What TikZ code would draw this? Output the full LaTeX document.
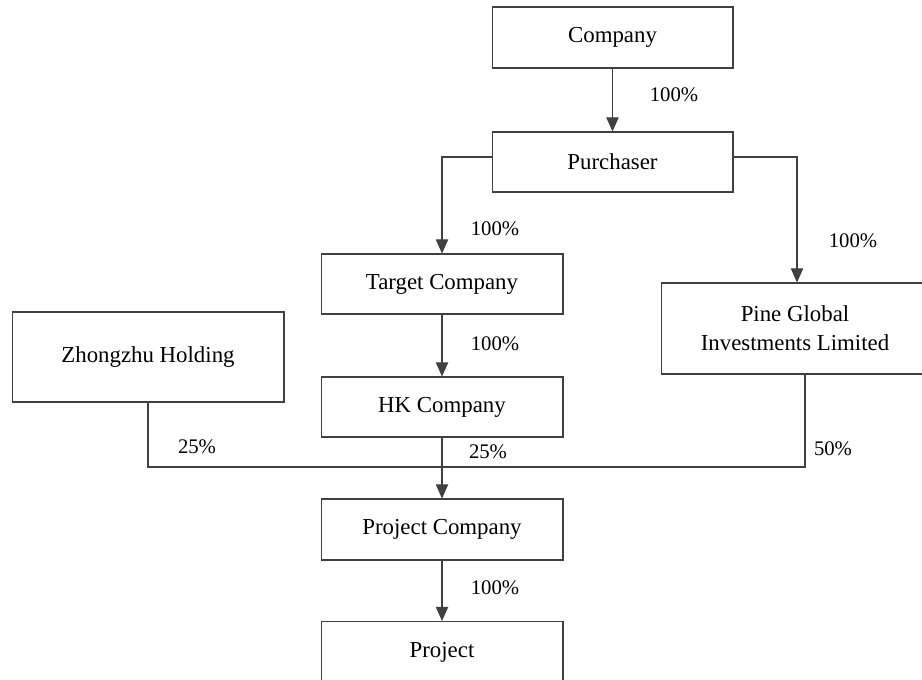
\documentclass[tikz,border=0pt]{standalone}
\usepackage{fontspec}
\setmainfont{Liberation Serif}
\usetikzlibrary{arrows.meta}
\tikzstyle{entity} = [rectangle, minimum width=4.84cm, minimum height=1.2cm, text centered, draw=black!75, line width=0.6pt, inner sep=0pt, font=\fontsize{13}{16.4}\selectfont]
\tikzstyle{share} = [inner sep=0pt, font=\fontsize{11.8}{14}\selectfont]
\tikzstyle{line} = [draw=black!75, line width=0.6pt]
\tikzstyle{arrow} = [line, -{Triangle[width=7pt,length=8pt]}]

\begin{document}
\begin{tikzpicture}[x=0.02cm, y=-0.02cm]
        \clip (0,0) rectangle (922,679);
        \node (company) [entity, minimum width=4.82cm, minimum height=1.22cm] at (612.5,37.5) {Company};
        \node (purchaser) [entity, minimum width=4.82cm] at (612.5,162) {Purchaser};
        \node (target) [entity] at (442,284) {Target Company};
        \node (pine) [entity, minimum width=5.36cm, minimum height=1.82cm, align=center] at (795,328.5)
        {Pine Global\\Investments Limited};
        \node (zhongzhu) [entity, minimum width=5.44cm, minimum height=1.8cm] at (148,357) {Zhongzhu Holding};
        \node (hk) [entity] at (442,407) {HK Company};
        \node (projco) [entity, minimum height=1.22cm] at (442,529.5) {Project Company};
        \node (project) [entity, minimum height=1.22cm] at (442,652) {Project};
        \coordinate (merge) at (442,467);

        \node (share_purchaser) [share] at (674,95) {100\%};
        \node (share_target) [share] at (495,229) {100\%};
        \node (share_pine) [share] at (853,241) {100\%};
        \node (share_hk) [share] at (495,344) {100\%};
        \node (share_zhongzhu) [share] at (197,447) {25\%};
        \node (share_hk_pc) [share] at (488,452) {25\%};
        \node (share_pine_pc) [share] at (833,449) {50\%};
        \node (share_project) [share] at (495,588) {100\%};

        \draw [arrow] (company) -- (purchaser);
        \draw [arrow] ([yshift=0.1cm]purchaser.west) -| (target);
        \draw [arrow] ([yshift=0.1cm]purchaser.east) -| ([xshift=0.04cm]pine.north);
        \draw [arrow] (target) -- (hk);
        \draw [line] (zhongzhu) |- (merge);
        \draw [line] ([xshift=0.2cm]pine.south) |- (merge);
        \draw [arrow] (hk) -- (projco);
        \draw [arrow] (projco) -- (project);

    \end{tikzpicture}
\end{document}
